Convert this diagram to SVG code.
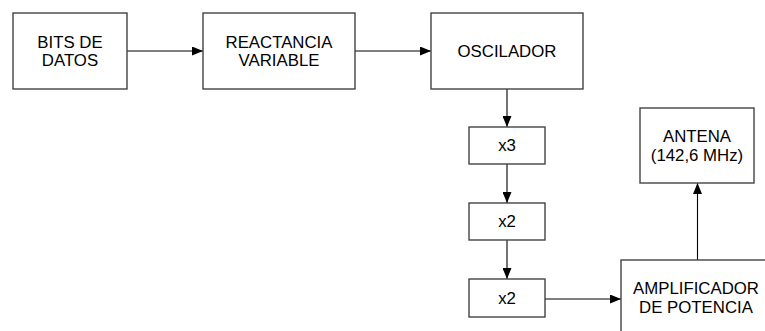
<svg xmlns="http://www.w3.org/2000/svg" width="765" height="331" viewBox="0 0 765 331">
<style>
.box{fill:#fff;stroke:#444;stroke-width:1.4}
.t{font-family:"Liberation Sans",Arial,sans-serif;font-size:16.8px;fill:#000;text-anchor:middle}
.c{fill:none;stroke:#000;stroke-width:1.1}
</style>
<defs>
<marker id="ah" markerWidth="11" markerHeight="9" refX="11" refY="4.5" orient="auto" markerUnits="userSpaceOnUse">
<path d="M0,0 L11,4.5 L0,9 Z" fill="#000"/>
</marker>
</defs>
<rect width="765" height="331" fill="#fff"/>
<g id="connectors">
<line class="c" x1="127" y1="51" x2="203" y2="51" marker-end="url(#ah)"/>
<line class="c" x1="355" y1="51" x2="431" y2="51" marker-end="url(#ah)"/>
<line class="c" x1="507" y1="89" x2="507" y2="127" marker-end="url(#ah)"/>
<line class="c" x1="507" y1="164" x2="507" y2="203" marker-end="url(#ah)"/>
<line class="c" x1="507" y1="240" x2="507" y2="279" marker-end="url(#ah)"/>
<line class="c" x1="545" y1="299" x2="621" y2="299" marker-end="url(#ah)"/>
<line class="c" x1="697.5" y1="260" x2="697.5" y2="183" marker-end="url(#ah)"/>
</g>
<g id="bits">
<rect class="box" x="13" y="13" width="114" height="76"/>
<text class="t" x="70" y="48">BITS DE</text>
<text class="t" x="70" y="66">DATOS</text>
</g>
<g id="reactancia">
<rect class="box" x="203" y="13" width="152" height="76"/>
<text class="t" x="279" y="48">REACTANCIA</text>
<text class="t" x="279" y="66">VARIABLE</text>
</g>
<g id="oscilador">
<rect class="box" x="431" y="13" width="152" height="76"/>
<text class="t" x="507" y="57">OSCILADOR</text>
</g>
<g id="x3">
<rect class="box" x="469" y="127" width="76" height="37"/>
<text class="t" x="507" y="151">x3</text>
</g>
<g id="x2a">
<rect class="box" x="469" y="203" width="76" height="37"/>
<text class="t" x="507" y="227">x2</text>
</g>
<g id="x2b">
<rect class="box" x="469" y="279" width="76" height="38"/>
<text class="t" x="507" y="304">x2</text>
</g>
<g id="antena">
<rect class="box" x="640" y="108" width="114" height="75"/>
<text class="t" x="697" y="142">ANTENA</text>
<text class="t" x="697" y="161">(142,6 MHz)</text>
</g>
<g id="amplificador">
<rect class="box" x="621" y="260" width="153" height="90"/>
<text class="t" x="696" y="294">AMPLIFICADOR</text>
<text class="t" x="696" y="313">DE POTENCIA</text>
</g>
</svg>
